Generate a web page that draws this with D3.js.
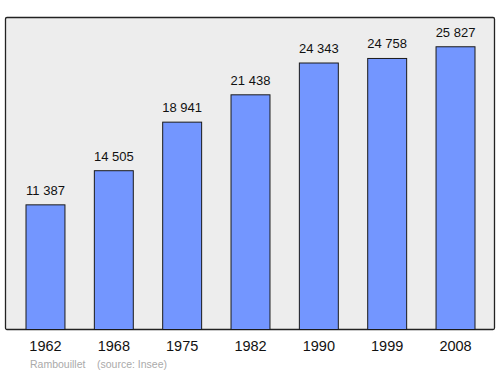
<!DOCTYPE html>
<html>
<head>
	<meta charset="utf-8">
	<script src="https://cdnjs.cloudflare.com/ajax/libs/d3/7.8.5/d3.min.js"></script>
	<style>
		body { margin: 0; background: #fff; }
		text { font-family: "Liberation Sans", Arial, sans-serif; }
	</style>
</head>
<body>
	<svg width="500" height="374" id="chart"></svg>
	<script>
	//chart data
	var years = ["1962", "1968", "1975", "1982", "1990", "1999", "2008"];
	var population = [11387, 14505, 18941, 21438, 24343, 24758, 25827];
	var labels = ["11 387", "14 505", "18 941", "21 438", "24 343", "24 758", "25 827"];

	var svg = d3.select("svg");

	//plot frame
	var frame = {left: 5.5, top: 17.5, right: 494.5, bottom: 329.5};

	svg.append("rect")
		.attr("x", frame.left)
		.attr("y", frame.top)
		.attr("width", frame.right - frame.left)
		.attr("height", frame.bottom - frame.top)
		.attr("rx", 1.5)
		.attr("fill", "#ededed")
		.attr("stroke", "#222")
		.attr("stroke-width", 1.3);

	//scales
	var x = d3.scaleBand()
		.domain(years)
		.range([26, 475])
		.paddingInner(0.43)
		.paddingOuter(0);

	var y = d3.scaleLinear()
		.domain([0, 28500])
		.range([frame.bottom, frame.top]);

	//bars
	svg.selectAll(".bar")
		.data(population)
		.enter().append("rect")
		.attr("class", "bar")
		.attr("x", function(d, i) { return x(years[i]); })
		.attr("y", function(d) { return y(d); })
		.attr("width", x.bandwidth())
		.attr("height", function(d) { return frame.bottom - y(d); })
		.attr("fill", "#7396ff")
		.attr("stroke", "#1a1a1a")
		.attr("stroke-width", 1);

	//value labels
	svg.selectAll(".value")
		.data(population)
		.enter().append("text")
		.attr("class", "value")
		.attr("x", function(d, i) { return x(years[i]) + x.bandwidth() / 2; })
		.attr("y", function(d) { return y(d) - 10; })
		.attr("text-anchor", "middle")
		.style("font-size", "13px")
		.attr("fill", "#111")
		.text(function(d, i) { return labels[i]; });

	//x axis labels
	var xAxis = svg.append("g")
		.attr("transform", "translate(0," + frame.bottom + ")")
		.call(d3.axisBottom(x).tickSize(0).tickPadding(11.5));
	xAxis.select(".domain").remove();
	xAxis.selectAll("text")
		.style("font-family", "'Liberation Sans', Arial, sans-serif")
		.style("font-size", "14.5px")
		.attr("fill", "#111");

	//source
	svg.append("text")
		.attr("x", 30)
		.attr("y", 368)
		.attr("fill", "#aaa")
		.style("font-size", "10.5px")
		.text("Rambouillet");
	svg.append("text")
		.attr("x", 97)
		.attr("y", 368)
		.attr("fill", "#aaa")
		.style("font-size", "10.5px")
		.text("(source: Insee)");
	</script>
</body>
</html>
